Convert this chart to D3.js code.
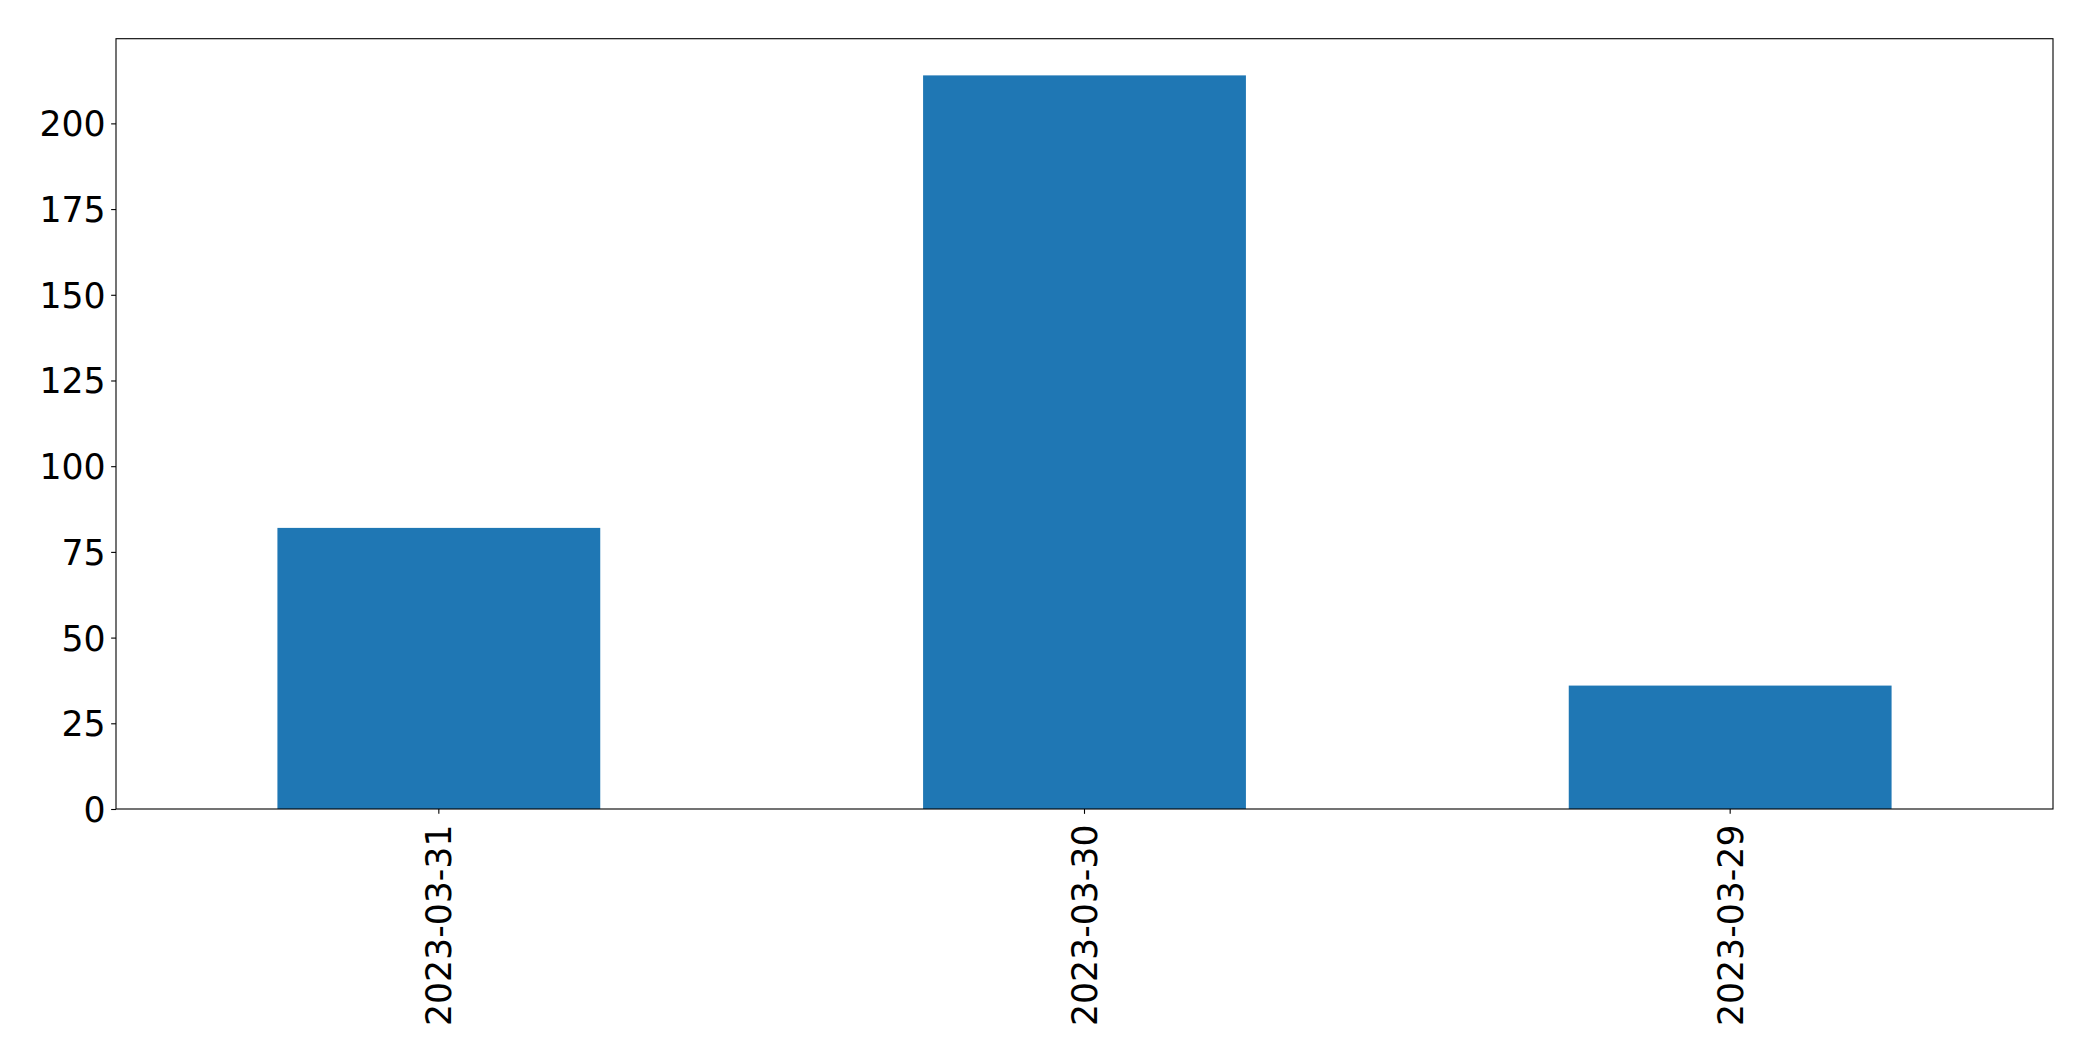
<!DOCTYPE html>
<html>
<head>
<meta charset="utf-8">
<script src="https://cdn.jsdelivr.net/npm/d3@7"></script>
<style>
  body { margin: 0; background: #ffffff; }
  svg { display: block; }
</style>
</head>
<body>
<svg id="chart" width="2093" height="1061"></svg>
<script>
// data
var dates = ["2023-03-31", "2023-03-30", "2023-03-29"];
var counts = [82, 214, 36];
var yTicks = [0, 25, 50, 75, 100, 125, 150, 175, 200];

var svg = d3.select("#chart");
var plotLeft = 116, plotRight = 2053, plotTop = 38.7, plotBottom = 809;
var fontSize = 34.7;
var tickLen = 4.86;

var x = d3.scaleBand()
  .domain(dates)
  .range([plotLeft, plotRight])
  .paddingInner(0.5)
  .paddingOuter(0.25);

var y = d3.scaleLinear()
  .domain([0, d3.max(counts) * 1.05])
  .range([plotBottom, plotTop]);

// bars
svg.selectAll("rect.bar")
  .data(dates)
  .enter().append("rect")
  .attr("class", "bar")
  .attr("x", function(d) { return x(d); })
  .attr("y", function(d, i) { return y(counts[i]); })
  .attr("width", x.bandwidth())
  .attr("height", function(d, i) { return y(0) - y(counts[i]); })
  .attr("fill", "#1f77b4");

// y axis
var yAxis = svg.append("g")
  .attr("transform", "translate(" + plotLeft + ",0)")
  .call(d3.axisLeft(y).tickValues(yTicks).tickSize(tickLen).tickPadding(5.5).tickSizeOuter(0));
yAxis.select(".domain").remove();
yAxis.selectAll("line").attr("stroke", "#000").attr("stroke-width", 1.1);
yAxis.selectAll("text")
  .attr("font-family", "'DejaVu Sans', sans-serif")
  .attr("font-size", fontSize)
  .attr("fill", "#000")
  .attr("dy", "0.36em");

// x axis
var xAxis = svg.append("g")
  .attr("transform", "translate(0," + plotBottom + ")")
  .call(d3.axisBottom(x).tickSize(tickLen).tickPadding(0).tickSizeOuter(0));
xAxis.select(".domain").remove();
xAxis.selectAll("line").attr("stroke", "#000").attr("stroke-width", 1.1);
xAxis.selectAll("text")
  .attr("font-family", "'DejaVu Sans', sans-serif")
  .attr("font-size", fontSize)
  .attr("fill", "#000")
  .attr("text-anchor", "end")
  .attr("transform", "translate(0,15.5) rotate(-90)")
  .attr("x", 0)
  .attr("y", 0)
  .attr("dy", "0.36em");

// frame
svg.append("rect")
  .attr("x", plotLeft)
  .attr("y", plotTop)
  .attr("width", plotRight - plotLeft)
  .attr("height", plotBottom - plotTop)
  .attr("fill", "none")
  .attr("stroke", "#000")
  .attr("stroke-width", 1.1);
</script>
</body>
</html>
